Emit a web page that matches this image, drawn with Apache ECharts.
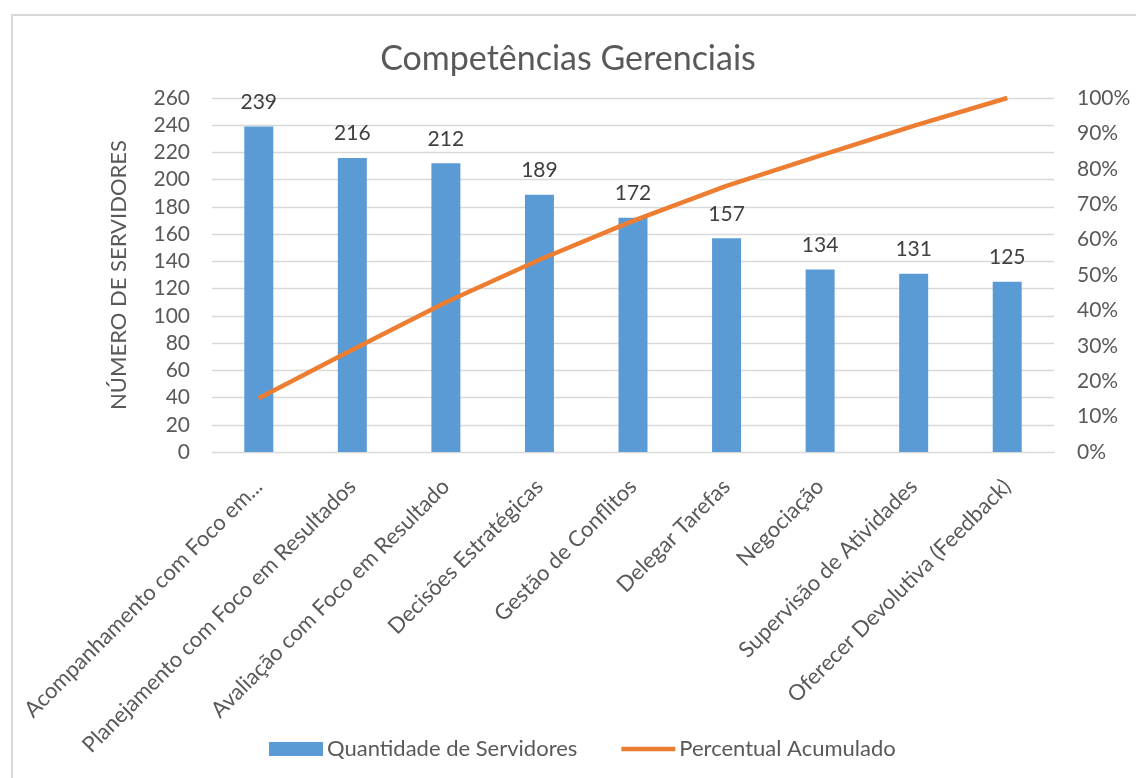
<!DOCTYPE html>
<html>
<head>
<meta charset="utf-8">
<script src="https://cdn.jsdelivr.net/npm/echarts@6/dist/echarts.min.js"></script>
<style>
    html, body { margin: 0; padding: 0; background: #ffffff; }
    #chart { width: 1136px; height: 778px; position: relative; }
    #frame { position: absolute; left: 11px; top: 14px; width: 1200px; height: 800px;
             border-left: 2px solid #d9d9d9; border-top: 2px solid #d9d9d9; pointer-events: none; }
</style>
</head>
<body>
<div id="chart"></div>
<div id="frame"></div>
<script>
// Dados
const categorias = [
    'Acompanhamento com Foco em...',
    'Planejamento com Foco em Resultados',
    'Avaliação com Foco em Resultado',
    'Decisões Estratégicas',
    'Gestão de Conflitos',
    'Delegar Tarefas',
    'Negociação',
    'Supervisão de Atividades',
    'Oferecer Devolutiva (Feedback)'
];
const quantidade = [239, 216, 212, 189, 172, 157, 134, 131, 125];
const percentual = [15.2, 28.9, 42.3, 54.3, 65.3, 75.2, 83.7, 92.1, 100];

const fonte = 'Lato, "Open Sans", sans-serif';
const cinza = '#595959';

const chart = echarts.init(document.getElementById('chart'));

chart.setOption({
    backgroundColor: '#ffffff',
    animation: false,
    textStyle: { fontFamily: fonte, color: cinza },
    title: {
        text: 'Competências Gerenciais',
        left: 'center',
        top: 37,
        textStyle: { fontFamily: fonte, fontSize: 34, fontWeight: 'normal', color: cinza }
    },
    legend: {
        bottom: 13,
        left: 264,
        itemWidth: 54,
        itemHeight: 14,
        itemGap: 44,
        textStyle: { fontFamily: fonte, fontSize: 22, color: cinza, padding: [0, 0, 0, -1] },
        data: [
            { name: 'Quantidade de Servidores', icon: 'rect' },
            { name: 'Percentual Acumulado', icon: 'path://M0,0H57V5H0Z' }
        ]
    },
    grid: { left: 212, right: 82, top: 98, bottom: 326 },
    xAxis: {
        type: 'category',
        data: categorias,
        axisLine: { show: true, lineStyle: { color: '#d9d9d9', width: 1 } },
        axisTick: { show: false },
        axisLabel: {
            interval: 0,
            rotate: 45,
            margin: 31,
            fontFamily: fonte,
            fontSize: 22,
            color: cinza
        }
    },
    yAxis: [
        {
            type: 'value',
            min: 0,
            max: 260,
            interval: 20,
            name: 'NÚMERO DE SERVIDORES',
            nameLocation: 'middle',
            nameGap: 82,
            nameTextStyle: { fontFamily: fonte, fontSize: 22, color: cinza },
            axisLine: { show: false },
            axisTick: { show: false },
            axisLabel: { fontFamily: fonte, fontSize: 21, color: cinza, margin: 22 },
            splitLine: { lineStyle: { color: '#d9d9d9', width: 1.3 } }
        },
        {
            type: 'value',
            min: 0,
            max: 100,
            interval: 10,
            axisLine: { show: false },
            axisTick: { show: false },
            axisLabel: {
                fontFamily: fonte, fontSize: 21, color: cinza, margin: 23,
                formatter: '{value}%'
            },
            splitLine: { show: false }
        }
    ],
    series: [
        {
            name: 'Quantidade de Servidores',
            type: 'bar',
            data: quantidade,
            barWidth: '31%',
            itemStyle: { color: '#5b9bd5' },
            label: {
                show: true,
                position: 'top',
                distance: 14,
                fontFamily: fonte,
                fontSize: 21,
                color: '#404040'
            }
        },
        {
            name: 'Percentual Acumulado',
            type: 'line',
            yAxisIndex: 1,
            data: percentual,
            symbol: 'none',
            lineStyle: { color: '#ed7d31', width: 4.5 },
            itemStyle: { color: '#ed7d31' }
        }
    ]
});
</script>
</body>
</html>
